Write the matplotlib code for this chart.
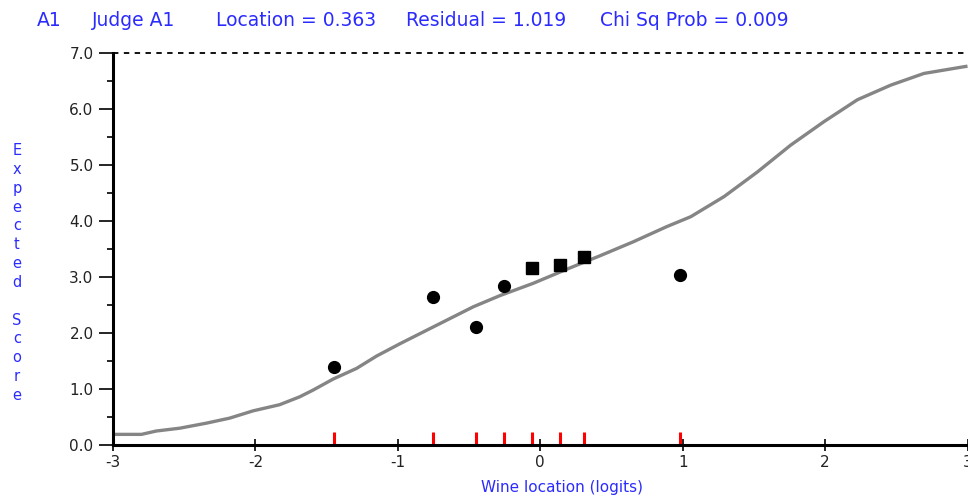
import matplotlib
matplotlib.use("Agg")
import matplotlib.pyplot as plt
from matplotlib.ticker import MultipleLocator

# ---- data ----
wine_loc = [-1.450, -0.755, -0.450, -0.258, -0.055, 0.140, 0.308, 0.978]
observed = [1.40, 2.65, 2.10, 2.84, 3.17, 3.21, 3.36, 3.03]
marker_kind = ["o", "o", "o", "o", "s", "s", "s", "o"]

curve_x = [-3.0, -2.80, -2.696, -2.532, -2.345, -2.181, -2.017, -1.83, -1.69, -1.596,
           -1.453, -1.289, -1.149, -0.985, -0.798, -0.634, -0.47, -0.283, -0.049,
           0.185, 0.418, 0.652, 0.886, 1.057, 1.291, 1.525, 1.759, 1.993, 2.227,
           2.46, 2.694, 2.975, 3.0]
curve_y = [0.19, 0.19, 0.25, 0.30, 0.39, 0.48, 0.61, 0.72, 0.86, 0.98,
           1.18, 1.37, 1.59, 1.81, 2.05, 2.26, 2.47, 2.67, 2.89,
           3.14, 3.38, 3.63, 3.90, 4.08, 4.44, 4.88, 5.36, 5.78, 6.17,
           6.43, 6.64, 6.76, 6.77]

x_ticks = [-3, -2, -1, 0, 1, 2, 3]
y_ticks = [0, 1, 2, 3, 4, 5, 6, 7]
y_tick_labels = ["0.0", "1.0", "2.0", "3.0", "4.0", "5.0", "6.0", "7.0"]

title_parts = ["A1", "Judge A1", "Location = 0.363", "Residual = 1.019", "Chi Sq Prob = 0.009"]
title_x_px = [37, 92, 216, 406, 600]
ylabel_text = "Expected Score"
xlabel_text = "Wine location (logits)"

BLUE = "#2b2bff"
W, H = 968, 498

fig = plt.figure(figsize=(W / 100, H / 100), dpi=100)
ax = fig.add_axes([113 / W, (H - 445) / H, (967.5 - 113) / W, (445 - 53.3) / H])
ax.set_xlim(-3, 3)
ax.set_ylim(0, 7)

# expected score curve
ax.plot(curve_x, curve_y, color="#858585", lw=2.4, solid_joinstyle="round",
        solid_capstyle="butt", zorder=2, clip_on=False)

# observed points
for xv, yv, mk in zip(wine_loc, observed, marker_kind):
    ax.plot([xv], [yv], marker=mk, color="black", markersize=8.5 if mk == "o" else 8,
            linestyle="none", zorder=4)

# red location ticks
for xv in wine_loc:
    ax.plot([xv, xv], [0, 0.23], color="#ff0000", lw=2.2, solid_capstyle="butt", zorder=3)

# dashed upper limit
ax.axhline(7, color="black", lw=1.3, linestyle=(0, (3, 3)), zorder=1, clip_on=False)

for s in ["top", "right"]:
    ax.spines[s].set_visible(False)
for s in ["left", "bottom"]:
    ax.spines[s].set_linewidth(2.2)
    ax.spines[s].set_color("black")
    ax.spines[s].set_zorder(5)

ax.set_xticks(x_ticks)
ax.set_xticklabels([str(t) if t >= 0 else "-" + str(-t) for t in x_ticks])
ax.set_yticks(y_ticks)
ax.set_yticklabels(y_tick_labels)
ax.yaxis.set_minor_locator(MultipleLocator(0.5))

ax.tick_params(axis="x", which="major", direction="inout", length=9, width=1.2,
               labelsize=11, colors="black", labelcolor="#222222", pad=3)
ax.tick_params(axis="y", which="major", direction="out", length=10, width=1.2,
               labelsize=11, colors="black", labelcolor="#222222", pad=4)
ax.tick_params(axis="y", which="minor", direction="out", length=4, width=1.2)

# title (segments)
for txt, xp in zip(title_parts, title_x_px):
    fig.text(xp / W, (H - 20) / H, txt, color=BLUE, fontsize=13.5, ha="left", va="center")

# vertical stacked y label
letters = "\n".join(list(ylabel_text))
fig.text(17 / W, (H - 273) / H, letters, color=BLUE, fontsize=10.5, ha="center", va="center",
         linespacing=1.32)

fig.text(562 / W, (H - 487) / H, xlabel_text, color=BLUE, fontsize=11, ha="center", va="center")

fig.savefig("out.png", dpi=100, facecolor="white")
